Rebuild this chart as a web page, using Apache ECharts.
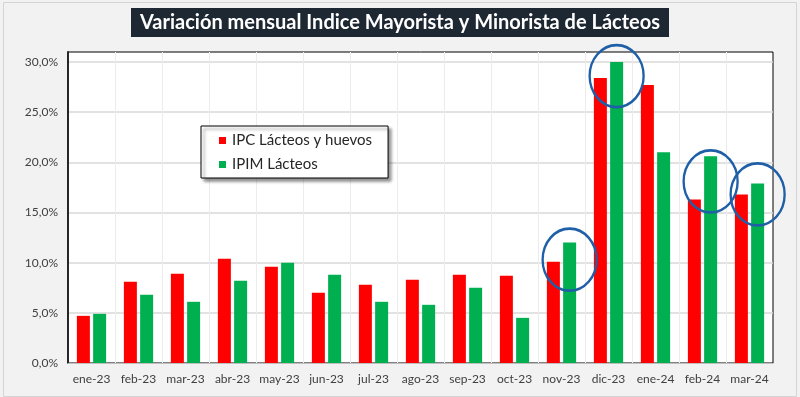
<!DOCTYPE html>
<html>
<head>
<meta charset="utf-8">
<script src="https://cdn.jsdelivr.net/npm/echarts@6/dist/echarts.min.js"></script>
<style>
html,body{margin:0;padding:0;background:#ffffff;}
#chart{width:800px;height:397px;}
</style>
</head>
<body>
<div id="chart"></div>
<script>
const titleText = 'Variación mensual Indice Mayorista y Minorista de Lácteos';
const categories = ['ene-23','feb-23','mar-23','abr-23','may-23','jun-23','jul-23','ago-23','sep-23','oct-23','nov-23','dic-23','ene-24','feb-24','mar-24'];
const seriesNames = ['IPC Lácteos y huevos', 'IPIM Lácteos'];
const ipcLacteos = [0.047, 0.081, 0.089, 0.104, 0.096, 0.070, 0.078, 0.083, 0.088, 0.087, 0.101, 0.284, 0.277, 0.163, 0.168];
const ipimLacteos = [0.049, 0.068, 0.061, 0.082, 0.100, 0.088, 0.061, 0.058, 0.075, 0.045, 0.120, 0.300, 0.210, 0.206, 0.179];
const circleCats = ['nov-23', 'dic-23', 'feb-24', 'mar-24'];
const circleVals = [0.103, 0.286, 0.181, 0.168];
const yTicks = [0, 0.05, 0.10, 0.15, 0.20, 0.25, 0.30];

const FONT = 'Lato, "Open Sans", sans-serif';
const chart = echarts.init(document.getElementById('chart'), null, {renderer: 'canvas'});

const option = {
  backgroundColor: '#f2f2f2',
  animation: false,
  textStyle: {fontFamily: FONT},
  title: {
    text: titleText,
    left: 'center',
    top: 8,
    backgroundColor: '#1e2833',
    padding: [5, 9, 4, 9],
    textStyle: {color: '#ffffff', fontSize: 20, fontWeight: 'bold', fontFamily: FONT}
  },
  legend: {
    orient: 'vertical',
    left: 201,
    top: 126,
    data: seriesNames,
    icon: 'rect',
    itemWidth: 7,
    itemHeight: 7,
    itemGap: 9,
    padding: [7, 16, 6, 18],
    backgroundColor: '#ffffff',
    borderColor: '#000000',
    borderWidth: 1,
    borderRadius: 0,
    shadowColor: 'rgba(0,0,0,0.45)',
    shadowBlur: 3,
    shadowOffsetX: 3,
    shadowOffsetY: 3,
    textStyle: {fontSize: 15, color: '#262626', fontFamily: FONT, padding: [0, 0, 0, 1]}
  },
  grid: {
    left: 68, right: 27, top: 52, bottom: 34,
    show: true,
    backgroundColor: '#ffffff',
    borderColor: '#000000',
    borderWidth: 1
  },
  xAxis: {
    type: 'category',
    data: categories,
    axisLine: {show: true, lineStyle: {color: '#bfbfbf', width: 1}},
    axisTick: {show: false},
    axisLabel: {color: '#404040', fontSize: 12, margin: 10, interval: 0, fontFamily: FONT},
    splitLine: {show: true, showMinLine: false, showMaxLine: false, lineStyle: {color: '#ececec', width: 1}}
  },
  yAxis: {
    type: 'value',
    min: 0,
    max: 0.31,
    interval: 0.05,
    axisLine: {show: true, lineStyle: {color: '#262626', width: 2}},
    axisTick: {show: false},
    axisLabel: {
      color: '#404040', fontSize: 12, margin: 10, fontFamily: FONT,
      formatter: function (v) {
        if (!yTicks.some(t => Math.abs(t - v) < 1e-6)) return '';
        return (v * 100).toFixed(1).replace('.', ',') + '%';
      }
    },
    splitLine: {show: true, showMinLine: false, showMaxLine: false, lineStyle: {color: '#d9d9d9', width: 1.5}}
  },
  series: [
    {
      name: seriesNames[0],
      type: 'bar',
      data: ipcLacteos,
      barWidth: 13,
      barGap: '25%',
      itemStyle: {color: '#ff0000'}
    },
    {
      name: seriesNames[1],
      type: 'bar',
      data: ipimLacteos,
      barWidth: 13,
      barGap: '25%',
      itemStyle: {color: '#00b050'},
      markPoint: {
        symbol: 'circle',
        symbolSize: [54, 62],
        silent: true,
        label: {show: false},
        itemStyle: {color: 'rgba(0,0,0,0)', borderColor: '#1f5fa8', borderWidth: 2.5},
        data: circleCats.map((c, i) => ({coord: [c, circleVals[i]]}))
      }
    }
  ],
  graphic: [
    {
      type: 'rect',
      left: 1, top: 0,
      shape: {width: 793, height: 394},
      style: {fill: 'none', stroke: '#d4d4d4', lineWidth: 1},
      silent: true,
      z: -1
    }
  ]
};
chart.setOption(option);
</script>
</body>
</html>
